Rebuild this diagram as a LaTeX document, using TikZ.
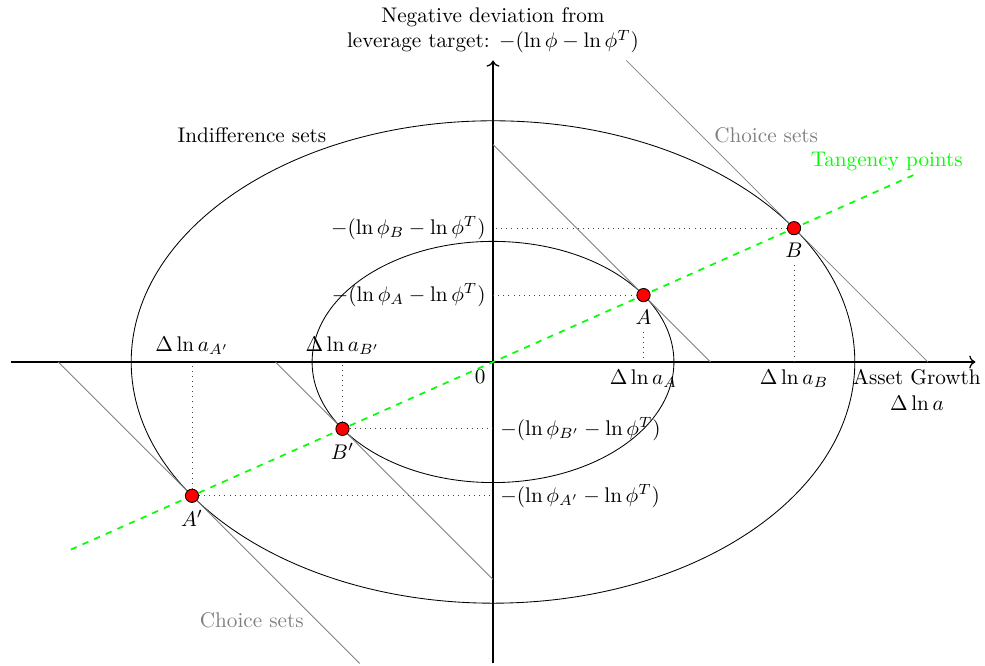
\documentclass[tikz,border=0pt]{standalone}
\usetikzlibrary{arrows.meta,positioning,calc}
\definecolor{tang}{RGB}{0,255,0}
\definecolor{choice}{RGB}{128,128,128}
\tikzset{axis/.style={->,semithick},
  indiff/.style={black},
  choiceline/.style={choice},
  tangline/.style={dashed,thick,tang},
  guide/.style={dotted,black!75},
  pt/.style={circle,fill=red,draw=black,inner sep=0pt,minimum size=2.2mm},
  labeltext/.style={align=center}}

\begin{document}
\begin{tikzpicture}[x=1cm,y=1cm]
\useasboundingbox (-8.176,-5.041) rectangle (8.159,6.003);
% axes
\coordinate (o) at (0,0);
\coordinate (xl) at (-8,0);
\coordinate (xr) at (8,0);
\coordinate (yb) at (0,-5);
\coordinate (yt) at (0,5);
\draw[axis] (xl)--(xr);
\draw[axis] (yb)--(yt);
\node[labeltext,below] (xlab) at (7.03,0) {Asset Growth\\$\Delta\ln a$};
\node[labeltext,above] (ylab) at (yt) {Negative deviation from\\leverage target: $-(\ln\phi-\ln\phi^T)$};
\node[below left] (zero) at (o) {$0$};
% indifference sets
\draw[indiff] (o) ellipse [x radius=3,y radius=2];
\draw[indiff] (o) ellipse [x radius=6,y radius=4];
\node (indlab) at (-3.997,3.765) {Indifference sets};
% choice sets
\coordinate (ca1) at (0,3.606);
\coordinate (ca2) at (3.606,0);
\coordinate (cb1) at (2.211,5);
\coordinate (cb2) at (7.211,0);
\coordinate (cc1) at (-3.606,0);
\coordinate (cc2) at (0,-3.606);
\coordinate (cd1) at (-7.211,0);
\coordinate (cd2) at (-2.211,-5);
\draw[choiceline] (ca1)--(ca2);
\draw[choiceline] (cb1)--(cb2);
\draw[choiceline] (cc1)--(cc2);
\draw[choiceline] (cd1)--(cd2);
\node[text=choice] (chlab1) at (4.53,3.765) {Choice sets};
\node[text=choice] (chlab2) at (-4.0,-4.28) {Choice sets};
% tangency points
\coordinate (t1) at (-7,-3.111);
\coordinate (t2) at (7,3.111);
\draw[tangline] (t1)--(t2);
\node[text=tang] (tanglab) at (6.53,3.32) {Tangency points};
% points
\node[pt] (A) at (2.496,1.109) {};
\node[pt] (B) at (4.992,2.219) {};
\node[pt] (Bp) at (-2.496,-1.109) {};
\node[pt] (Ap) at (-4.992,-2.219) {};
\node[below=0pt of A] (lA) {$A$};
\node[below=0pt of B] (lB) {$B$};
\node[below=0pt of Bp] (lBp) {$B'$};
\node[below=0pt of Ap] (lAp) {$A'$};
% guides to the axes
\coordinate (xa) at (2.496,0);
\coordinate (xb) at (4.992,0);
\coordinate (xbb) at (-2.496,0);
\coordinate (xaa) at (-4.992,0);
\coordinate (ya) at (0,1.109);
\coordinate (yb2) at (0,2.219);
\coordinate (ybb) at (0,-1.109);
\coordinate (yaa) at (0,-2.219);
\draw[guide] (A)--(ya);
\draw[guide] (B)--(yb2);
\draw[guide] (Bp)--(ybb);
\draw[guide] (Ap)--(yaa);
\draw[guide] (lA)--(xa);
\draw[guide] (lB)--(xb);
\draw[guide] (Bp)--(xbb);
\draw[guide] (Ap)--(xaa);
\node[below] (lxa) at (xa) {$\Delta\ln a_A$};
\node[below] (lxb) at (xb) {$\Delta\ln a_B$};
\node[above] (lxbb) at (xbb) {$\Delta\ln a_{B'}$};
\node[above] (lxaa) at (xaa) {$\Delta\ln a_{A'}$};
\node[left] (lya) at (ya) {$-(\ln\phi_A-\ln\phi^T)$};
\node[left] (lyb) at (yb2) {$-(\ln\phi_B-\ln\phi^T)$};
\node[right] (lybb) at (ybb) {$-(\ln\phi_{B'}-\ln\phi^T)$};
\node[right] (lyaa) at (yaa) {$-(\ln\phi_{A'}-\ln\phi^T)$};
\end{tikzpicture}
\end{document}
